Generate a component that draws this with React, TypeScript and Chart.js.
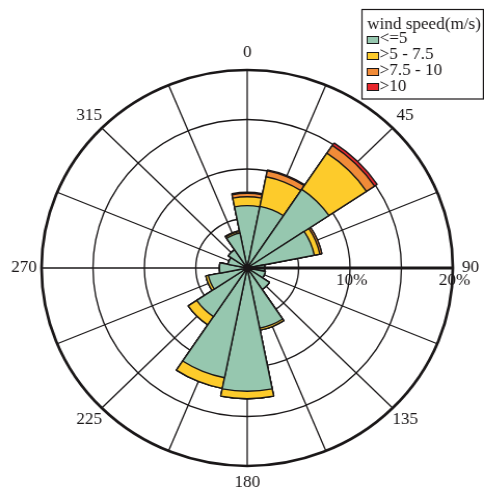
import React, { useEffect, useRef } from "react";
import { Chart, registerables } from "chart.js";

Chart.register(...registerables);

// 16 compass sectors, clockwise from north
const directions = ["N", "NNE", "NE", "ENE", "E", "ESE", "SE", "SSE", "S", "SSW", "SW", "WSW", "W", "WNW", "NW", "NNW"];
const speedBins = ["<=5", ">5 - 7.5", ">7.5 - 10", ">10"];

// frequency (%) per sector for each wind-speed bin
const speedLow = [6.3, 6.35, 9.55, 6.65, 1.7, 1.8, 2.6, 6.2, 12.45, 11.3, 5.9, 3.85, 2.7, 1.9, 2.2, 3.6];
const speedMid = [0.9, 3.05, 4.4, 0.55, 0, 0, 0, 0.2, 0.75, 1.1, 1.0, 0.25, 0, 0, 0, 0.15];
const speedHigh = [0.35, 0.6, 0.95, 0.2, 0, 0, 0, 0, 0, 0, 0, 0, 0, 0, 0, 0.1];
const speedGale = [0.1, 0.1, 0.3, 0, 0, 0, 0, 0, 0, 0, 0, 0, 0, 0, 0, 0];

const binColors = ["#96C7AF", "#FDCB2B", "#F18B38", "#E8262C"];
const angleLabels = ["0", "45", "90", "135", "180", "225", "270", "315"];
const gridRings = [5, 10, 15, 20];
const radialTickValues = [10, 20];
const radialMax = 20;

const INK = "#1A1718";
const FONT = "16.5px 'Liberation Serif', 'Times New Roman', serif";

// canvas backing store is narrower than its CSS box, giving the slightly wide rose
const BACK_W = 466;
const BACK_H = 489;

const windRoseDecor = {
  id: "windRoseDecor",
  beforeDatasetsDraw(chart: any) {
    const s = chart.scales.r;
    const ctx = chart.ctx as CanvasRenderingContext2D;
    const cx = s.xCenter;
    const cy = s.yCenter;
    const R = s.getDistanceFromCenterForValue(radialMax);
    ctx.save();
    ctx.strokeStyle = INK;
    ctx.lineWidth = 1.3;
    for (let i = 0; i < 16; i++) {
      const a = (i * Math.PI) / 8;
      ctx.beginPath();
      ctx.moveTo(cx, cy);
      ctx.lineTo(cx + R * Math.sin(a), cy - R * Math.cos(a));
      ctx.stroke();
    }
    gridRings.forEach((v) => {
      ctx.lineWidth = v === radialMax ? 2.7 : 1.35;
      ctx.beginPath();
      ctx.arc(cx, cy, s.getDistanceFromCenterForValue(v), 0, Math.PI * 2);
      ctx.stroke();
    });
    ctx.restore();
  },
  afterDatasetsDraw(chart: any) {
    const s = chart.scales.r;
    const ctx = chart.ctx as CanvasRenderingContext2D;
    const cx = s.xCenter;
    const cy = s.yCenter;
    const R = s.getDistanceFromCenterForValue(radialMax);
    ctx.save();

    // radial axis towards 90
    ctx.strokeStyle = INK;
    ctx.lineWidth = 3;
    ctx.beginPath();
    ctx.moveTo(cx, cy);
    ctx.lineTo(cx + R, cy);
    ctx.stroke();

    // hub
    ctx.fillStyle = INK;
    ctx.beginPath();
    ctx.arc(cx, cy, 3.5, 0, Math.PI * 2);
    ctx.fill();

    ctx.font = FONT;
    ctx.fillStyle = INK;
    ctx.textAlign = "center";
    ctx.textBaseline = "middle";

    // direction labels
    const rl = R + 17;
    angleLabels.forEach((lbl) => {
      const a = (Number(lbl) * Math.PI) / 180;
      ctx.fillText(lbl, cx + rl * Math.sin(a), cy - rl * Math.cos(a));
    });

    // radial tick labels
    radialTickValues.forEach((v) => {
      ctx.fillText(v + "%", cx + s.getDistanceFromCenterForValue(v) + 1.5, cy + 13);
    });

    // legend
    const lx = 348.5;
    const ly = 9.5;
    ctx.lineWidth = 1.2;
    ctx.strokeStyle = INK;
    ctx.strokeRect(lx, ly, BACK_W - 0.6 - lx, 89.5);
    ctx.textAlign = "left";
    ctx.textBaseline = "alphabetic";
    ctx.fillText("wind speed(m/s)", 353.5, 28.5);
    const baselines = [43, 59, 75, 90.5];
    const centers = [40, 56, 72, 87];
    speedBins.forEach((name, i) => {
      ctx.fillStyle = binColors[i];
      ctx.fillRect(353.5, centers[i] - 3.5, 11, 7);
      ctx.lineWidth = 1;
      ctx.strokeStyle = INK;
      ctx.strokeRect(353.5, centers[i] - 3.5, 11, 7);
      ctx.fillStyle = INK;
      ctx.fillText(name, 365.5, baselines[i]);
    });

    ctx.restore();
  },
};

export default function App() {
  const canvasRef = useRef<HTMLCanvasElement | null>(null);

  useEffect(() => {
    const canvas = canvasRef.current;
    if (!canvas) return;

    const series = [speedLow, speedMid, speedHigh, speedGale];
    // stacked totals: each ring is drawn from the centre out to its cumulative value
    const cumulative = series.map((_, k) =>
      directions.map((_, d) => {
        let sum = 0;
        for (let j = 0; j <= k; j++) sum += series[j][d];
        return +sum.toFixed(3);
      })
    );

    const chart = new Chart(canvas, {
      type: "polarArea",
      data: {
        labels: directions,
        datasets: speedBins.map((name, k) => ({
          label: name,
          data: cumulative[k],
          backgroundColor: binColors[k],
          borderColor: INK,
          borderWidth: 1.4,
          borderAlign: "center" as const,
        })),
      },
      options: {
        responsive: false,
        animation: false,
        devicePixelRatio: 1,
        layout: { padding: { left: 40, top: 70, right: BACK_W - 40 - 396, bottom: BACK_H - 70 - 396 } },
        plugins: {
          legend: { display: false },
          tooltip: { enabled: false },
          title: { display: false },
        },
        scales: {
          r: {
            min: 0,
            max: radialMax,
            startAngle: -11.25,
            ticks: { display: false },
            grid: { display: false },
            angleLines: { display: false },
            pointLabels: { display: false },
          },
        },
      },
      plugins: [windRoseDecor],
    });

    return () => chart.destroy();
  }, []);

  return (
    <div style={{ position: "fixed", left: 0, top: 0, width: 484, height: 489, background: "#fff" }}>
      <canvas
        ref={canvasRef}
        width={BACK_W}
        height={BACK_H}
        style={{ display: "block", width: "484px", height: "489px" }}
      />
    </div>
  );
}
